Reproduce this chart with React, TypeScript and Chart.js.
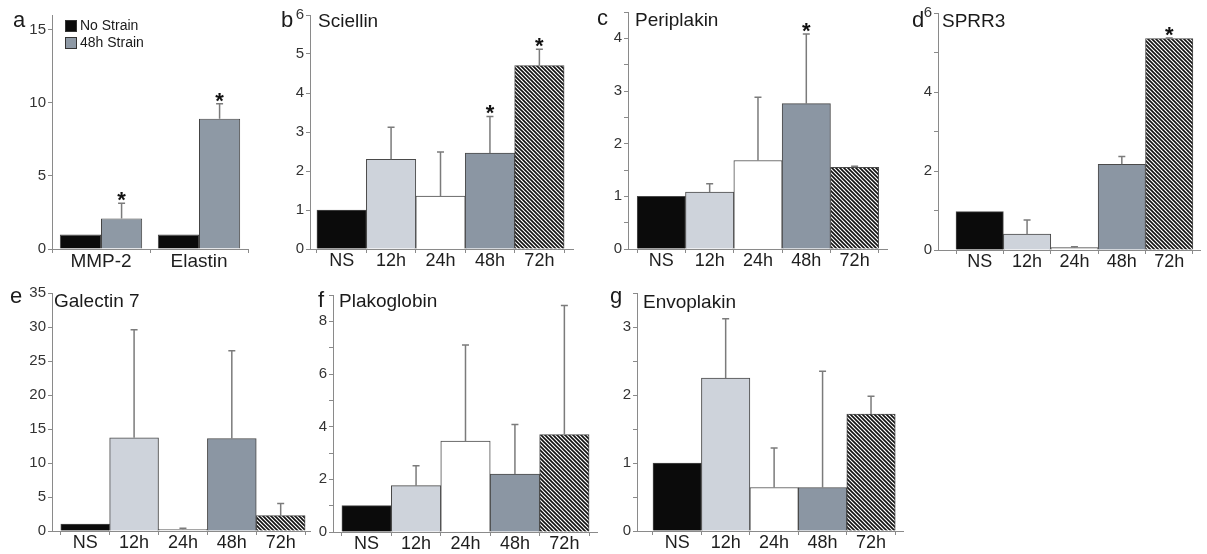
import React, { useEffect, useRef } from 'react';
import { Chart, registerables } from 'chart.js';

Chart.register(...registerables);

const FONT = '"Liberation Sans", Arial, Helvetica, sans-serif';

// ---------------- data ----------------
const timeLabels = ['NS', '12h', '24h', '48h', '72h'];

// panel a
const strainCategories = ['MMP-2', 'Elastin'];
const strainSeriesNames = ['No Strain', '48h Strain'];
const noStrainValues = [1.0, 1.0];
const noStrainErrors = [0, 0];
const noStrainSig = [false, false];
const strain48Values = [2.08, 8.9];
const strain48Errors = [1.05, 1.04];
const strain48Sig = [true, true];

// panel b
const sciellinValues = [1.0, 2.3, 1.36, 2.46, 4.7];
const sciellinErrors = [0, 0.82, 1.13, 0.94, 0.42];
const sciellinSig = [false, false, false, true, true];

// panel c
const periplakinValues = [1.0, 1.08, 1.68, 2.76, 1.55];
const periplakinErrors = [0, 0.16, 1.2, 1.32, 0.02];
const periplakinSig = [false, false, false, true, false];

// panel d
const sprr3Values = [0.97, 0.4, 0.06, 2.17, 5.35];
const sprr3Errors = [0, 0.36, 0.02, 0.2, 0.02];
const sprr3Sig = [false, false, false, false, true];

// panel e
const galectinValues = [1.0, 13.7, 0.25, 13.6, 2.25];
const galectinErrors = [0, 15.9, 0.15, 12.9, 1.8];
const galectinSig = [false, false, false, false, false];

// panel f
const plakoglobinValues = [1.0, 1.76, 3.45, 2.2, 3.7];
const plakoglobinErrors = [0, 0.76, 3.65, 1.88, 4.9];
const plakoglobinSig = [false, false, false, false, false];

// panel g
const envoplakinValues = [1.0, 2.25, 0.64, 0.64, 1.72];
const envoplakinErrors = [0, 0.87, 0.58, 1.71, 0.26];
const envoplakinSig = [false, false, false, false, false];

// y axis definitions [max, step, label every]
const yStrain = [16, 5, 5];
const ySciellin = [6, 1, 1];
const yPeriplakin = [4.5, 0.5, 1];
const ySprr3 = [6, 1, 2];
const yGalectin = [35, 5, 5];
const yPlakoglobin = [9, 1, 2];
const yEnvoplakin = [3.5, 0.5, 1];

// ---------------- styles ----------------
const COLORS = ['#0b0b0b', '#ced3db', '#ffffff', '#8b96a3', 'HATCH'];
const STRAIN_COLORS = ['#0b0b0b', '#8e99a5'];
const AXIS = '#8a8a8a';
const YW = 50;
const PT = 14;
const PR = 6;
const XH = 34;

let hatchCache: CanvasPattern | null = null;
function hatch(): CanvasPattern | string {
  if (hatchCache) return hatchCache;
  const c = document.createElement('canvas');
  const s = 4;
  c.width = s;
  c.height = s;
  const g = c.getContext('2d')!;
  g.fillStyle = '#ffffff';
  g.fillRect(0, 0, s, s);
  g.strokeStyle = '#111111';
  g.lineWidth = 1.6;
  g.beginPath();
  for (let k = -1; k <= 1; k++) {
    g.moveTo(-1, k * s - 1);
    g.lineTo(s + 1, s + k * s + 1);
  }
  g.stroke();
  const p = g.createPattern(c, 'repeat');
  hatchCache = p;
  return p || '#555';
}

type Series = { name?: string; values: number[]; errors: number[]; sig: boolean[]; color?: string };
type Box = {
  axisX: number; axisEnd: number; top: number; bottom: number;
  xMin?: number; xMax?: number;
  letterDx: number; letterDy: number; titleDx: number; titleDy: number;
};
type Panel = {
  key: string; letter: string; title: string; cats: string[]; series: Series[];
  y: number[]; box: Box; grouped?: boolean; legend?: boolean;
};

const panels: Panel[] = [
  {
    key: 'a', letter: 'a', title: '', cats: strainCategories, grouped: true, legend: true,
    series: [
      { name: strainSeriesNames[0], values: noStrainValues, errors: noStrainErrors, sig: noStrainSig, color: STRAIN_COLORS[0] },
      { name: strainSeriesNames[1], values: strain48Values, errors: strain48Errors, sig: strain48Sig, color: STRAIN_COLORS[1] },
    ],
    y: yStrain,
    box: { axisX: 52, axisEnd: 248, top: 15, bottom: 249, letterDx: -39, letterDy: 12, titleDx: 0, titleDy: 0 },
  },
  {
    key: 'b', letter: 'b', title: 'Sciellin', cats: timeLabels,
    series: [{ values: sciellinValues, errors: sciellinErrors, sig: sciellinSig }],
    y: ySciellin,
    box: { axisX: 310, axisEnd: 573, top: 15, bottom: 249, xMin: -0.64, xMax: 4.68, letterDx: -29, letterDy: 12, titleDx: 8, titleDy: 12 },
  },
  {
    key: 'c', letter: 'c', title: 'Periplakin', cats: timeLabels,
    series: [{ values: periplakinValues, errors: periplakinErrors, sig: periplakinSig }],
    y: yPeriplakin,
    box: { axisX: 628, axisEnd: 887, top: 12, bottom: 249, xMin: -0.69, xMax: 4.67, letterDx: -31, letterDy: 13, titleDx: 7, titleDy: 14 },
  },
  {
    key: 'd', letter: 'd', title: 'SPRR3', cats: timeLabels,
    series: [{ values: sprr3Values, errors: sprr3Errors, sig: sprr3Sig }],
    y: ySprr3,
    box: { axisX: 938, axisEnd: 1200, top: 13, bottom: 250, xMin: -0.88, xMax: 4.65, letterDx: -26, letterDy: 14, titleDx: 4, titleDy: 14 },
  },
  {
    key: 'e', letter: 'e', title: 'Galectin 7', cats: timeLabels,
    series: [{ values: galectinValues, errors: galectinErrors, sig: galectinSig }],
    y: yGalectin,
    box: { axisX: 52, axisEnd: 310, top: 293, bottom: 531, xMin: -0.68, xMax: 4.6, letterDx: -42, letterDy: 10, titleDx: 2, titleDy: 14 },
  },
  {
    key: 'f', letter: 'f', title: 'Plakoglobin', cats: timeLabels,
    series: [{ values: plakoglobinValues, errors: plakoglobinErrors, sig: plakoglobinSig }],
    y: yPlakoglobin,
    box: { axisX: 333, axisEnd: 597, top: 295, bottom: 532, xMin: -0.68, xMax: 4.66, letterDx: -15, letterDy: 12, titleDx: 6, titleDy: 12 },
  },
  {
    key: 'g', letter: 'g', title: 'Envoplakin', cats: timeLabels,
    series: [{ values: envoplakinValues, errors: envoplakinErrors, sig: envoplakinSig }],
    y: yEnvoplakin,
    box: { axisX: 637, axisEnd: 903, top: 293, bottom: 531, xMin: -0.83, xMax: 4.66, letterDx: -27, letterDy: 10, titleDx: 6, titleDy: 15 },
  },
];

function decoPlugin(p: Panel) {
  return {
    id: 'deco_' + p.key,
    afterDatasetsDraw(chart: any) {
      const ctx: CanvasRenderingContext2D = chart.ctx;
      const y = chart.scales.y;
      ctx.save();
      p.series.forEach((s, di) => {
        const meta = chart.getDatasetMeta(di);
        meta.data.forEach((el: any, i: number) => {
          const v = s.values[i];
          const e = s.errors[i] || 0;
          const yTop = y.getPixelForValue(v + e);
          const x = el.x;
          if (e > 0) {
            ctx.strokeStyle = '#7b7b7b';
            ctx.lineWidth = 1.5;
            ctx.beginPath();
            ctx.moveTo(x, el.y);
            ctx.lineTo(x, yTop);
            ctx.moveTo(x - 3.5, yTop);
            ctx.lineTo(x + 3.5, yTop);
            ctx.stroke();
          }
          if (s.sig[i]) {
            ctx.fillStyle = '#111';
            ctx.font = `bold 22px ${FONT}`;
            ctx.textAlign = 'center';
            ctx.textBaseline = 'alphabetic';
            ctx.fillText('*', x, yTop + 4);
          }
        });
      });
      ctx.restore();
    },
    afterDraw(chart: any) {
      const ctx: CanvasRenderingContext2D = chart.ctx;
      const ca = chart.chartArea;
      const b = p.box;
      ctx.save();
      ctx.fillStyle = '#1a1a1a';
      ctx.textAlign = 'left';
      ctx.textBaseline = 'alphabetic';
      ctx.font = `22px ${FONT}`;
      ctx.fillText(p.letter, ca.left + b.letterDx, ca.top + b.letterDy);
      if (p.title) {
        ctx.font = `19px ${FONT}`;
        ctx.fillText(p.title, ca.left + b.titleDx, ca.top + b.titleDy);
      }
      if (p.legend) {
        ctx.font = `14px ${FONT}`;
        ctx.textBaseline = 'middle';
        p.series.forEach((s, i) => {
          const bx = ca.left + 13;
          const by = ca.top + 5 + i * 17;
          ctx.fillStyle = s.color || '#000';
          ctx.fillRect(bx, by, 12, 12);
          ctx.strokeStyle = '#333';
          ctx.lineWidth = 1;
          ctx.strokeRect(bx + 0.5, by + 0.5, 11, 11);
          ctx.fillStyle = '#1a1a1a';
          ctx.fillText(s.name || '', bx + 15, by + 6.5);
        });
      }
      ctx.restore();
    },
  };
}

function yScale(p: Panel) {
  const [max, step, every] = p.y;
  return {
    type: 'linear',
    min: 0,
    max,
    z: 1,
    afterFit: (s: any) => { s.width = YW; },
    ticks: {
      stepSize: step,
      includeBounds: false,
      autoSkip: false,
      padding: 2,
      color: '#333333',
      font: { family: FONT, size: 15 },
      callback: (v: number) => {
        const r = v / every;
        return Math.abs(r - Math.round(r)) < 1e-6 ? String(v) : '';
      },
    },
    grid: { display: true, drawOnChartArea: false, drawTicks: true, tickLength: 4, color: AXIS, lineWidth: 1 },
    border: { display: true, color: AXIS, width: 1 },
  };
}

function buildConfig(p: Panel): any {
  let datasets: any[];
  let xScale: any;
  const xTicksBase = {
    autoSkip: false,
    maxRotation: 0,
    minRotation: 0,
    padding: -1,
    color: '#1e1e1e',
    font: { family: FONT, size: p.grouped ? 19 : 18, lineHeight: 1 },
  };
  const xGrid = { display: true, drawOnChartArea: false, drawTicks: true, tickLength: 4, color: AXIS, lineWidth: 1, offset: true };
  if (p.grouped) {
    datasets = p.series.map((s) => ({
      label: s.name,
      data: s.values,
      backgroundColor: s.color,
      borderColor: '#444',
      borderWidth: 1,
      categoryPercentage: 0.84,
      barPercentage: 1,
    }));
    xScale = {
      type: 'category',
      labels: p.cats,
      offset: true,
      z: 1,
      afterFit: (s: any) => { s.height = XH; },
      ticks: xTicksBase,
      grid: xGrid,
      border: { display: true, color: AXIS, width: 1 },
    };
  } else {
    const colors = COLORS.map((c) => (c === 'HATCH' ? hatch() : c));
    datasets = p.series.map((s) => ({
      data: s.values.map((v, i) => ({ x: i, y: v })),
      backgroundColor: colors,
      borderColor: '#4a4a4a',
      borderWidth: 1,
      categoryPercentage: 1,
      barPercentage: 1,
    }));
    const cats = p.cats;
    xScale = {
      type: 'linear',
      min: p.box.xMin,
      max: p.box.xMax,
      offset: false,
      z: 1,
      afterBuildTicks: (s: any) => { s.ticks = cats.map((_, i) => ({ value: i })); },
      afterFit: (s: any) => { s.height = XH; },
      ticks: { ...xTicksBase, callback: (v: number) => cats[v] ?? '' },
      grid: xGrid,
      border: { display: true, color: AXIS, width: 1 },
    };
  }
  return {
    type: 'bar',
    data: p.grouped ? { labels: p.cats, datasets } : { datasets },
    options: {
      animation: false,
      responsive: false,
      maintainAspectRatio: false,
      events: [],
      layout: { padding: { top: PT, right: PR, left: 0, bottom: 0 } },
      plugins: { legend: { display: false }, tooltip: { enabled: false }, title: { display: false } },
      scales: { x: xScale, y: yScale(p) },
    },
    plugins: [decoPlugin(p)],
  };
}

function PanelChart({ p }: { p: Panel }) {
  const ref = useRef<HTMLCanvasElement>(null);
  const b = p.box;
  const w = YW + (b.axisEnd - b.axisX) + PR;
  const h = PT + (b.bottom - b.top) + XH;
  useEffect(() => {
    if (!ref.current) return;
    const chart = new Chart(ref.current, buildConfig(p));
    return () => chart.destroy();
  }, [p]);
  return (
    <canvas
      ref={ref}
      width={w}
      height={h}
      style={{ position: 'absolute', left: b.axisX - YW, top: b.top - PT, width: w, height: h }}
    />
  );
}

export default function App() {
  return (
    <div style={{ position: 'absolute', left: 0, top: 0, width: 1207, height: 554, background: '#ffffff', overflow: 'hidden' }}>
      {panels.map((p) => (
        <PanelChart key={p.key} p={p} />
      ))}
    </div>
  );
}
